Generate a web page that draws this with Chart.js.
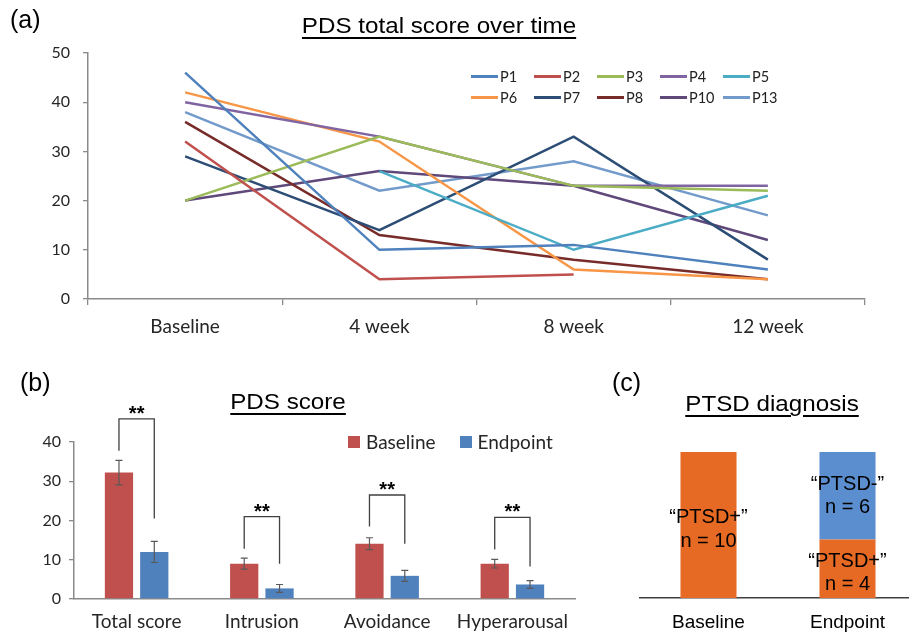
<!DOCTYPE html>
<html>
<head>
<meta charset="utf-8">
<script src="https://cdn.jsdelivr.net/npm/chart.js@4.4.1/dist/chart.umd.min.js"></script>
<style>
  body { margin: 0; background: #fff; }
  #fig { position: relative; width: 909px; height: 637px; overflow: hidden; font-family: "Liberation Sans", Arial, sans-serif; color: #000; }
  canvas { position: absolute; }
  .lbl { position: absolute; font-size: 25px; line-height: 25px; }
  .ttl { position: absolute; font-size: 22px; line-height: 22px; white-space: nowrap;
         text-decoration: underline; text-decoration-thickness: 1.5px; text-underline-offset: 4px;
         transform: translateX(-50%) scaleX(1.1); }
  #legA { position: absolute; left: 471px; top: 67px; display: grid; grid-template-columns: repeat(5, 63px); row-gap: 3px;
          font-family: Lato, sans-serif; font-size: 14.5px; color: #222; }
  #legA div { display: flex; align-items: center; height: 18px; }
  #legA span.ln { display: inline-block; width: 27px; height: 3px; margin-right: 2px; }
  #legB { position: absolute; top: 430px; left: 348px; font-family: Lato, sans-serif; font-size: 19px; color: #262626; display: flex; }
  #legB div { display: flex; align-items: center; margin-right: 24px; }
  #legB span.sq { display: inline-block; width: 12px; height: 12px; margin-right: 6px; }
  #boxC { position: absolute; left: 639px; top: 380px; width: 270px; height: 257px; overflow: hidden; }
</style>
</head>
<body>
<div id="fig">
  <canvas id="chartA" width="909" height="345" style="left:0;top:0"></canvas>
  <canvas id="chartB" width="600" height="257" style="left:0;top:380px"></canvas>
  <div id="boxC"><canvas id="chartC" width="279" height="257" style="left:0;top:0"></canvas></div>

  <div class="lbl" style="left:10px;top:7px">(a)</div>
  <div class="lbl" style="left:20px;top:370px">(b)</div>
  <div class="lbl" style="left:612px;top:370px">(c)</div>

  <div class="ttl" style="left:439px;top:15px">PDS total score over time</div>
  <div class="ttl" style="left:288px;top:391px">PDS score</div>
  <div class="ttl" style="left:772px;top:393px">PTSD diagnosis</div>

  <div id="legA"></div>
  <div id="legB"></div>
</div>

<script>
// (a) PDS total score over time
const timepoints = ["Baseline", "4 week", "8 week", "12 week"];
const participants = ["P1", "P2", "P3", "P4", "P5", "P6", "P7", "P8", "P10", "P13"];
const scoreP1 = [46, 10, 11, 6];
const scoreP2 = [32, 4, 5, null];
const scoreP3 = [20, 33, 23, 22];
const scoreP4 = [40, 33, 23, 23];
const scoreP5 = [null, 26, 10, 21];
const scoreP6 = [42, 32, 6, 4];
const scoreP7 = [29, 14, 33, 8];
const scoreP8 = [36, 13, 8, 4];
const scoreP10 = [20, 26, 23, 12];
const scoreP13 = [38, 22, 28, 17];
const lineColors = ["#4F81BD", "#C0504D", "#9BBB59", "#8064A2", "#4BACC6",
                    "#F79646", "#2C4D75", "#772C2A", "#5F497A", "#729ACA"];
const yTicksA = [0, 10, 20, 30, 40, 50];

// (b) PDS score, mean +- error
const subscales = ["Total score", "Intrusion", "Avoidance", "Hyperarousal"];
const baselineMean = [32.2, 9, 14.1, 9];
const endpointMean = [12, 2.7, 5.9, 3.7];
const baselineErr = [3.1, 1.4, 1.5, 1.1];
const endpointErr = [2.7, 1, 1.4, 1];
// significance brackets (score units)
const bracketTop = [45.9, 21, 26.5, 20.8];
const bracketLeft = [37.8, 12.8, 18.5, 12.6];
const bracketRight = [20.5, 9, 14.1, 8.3];
const signif = ["**", "**", "**", "**"];

// (c) PTSD diagnosis
const diagGroups = ["Baseline", "Endpoint"];
const ptsdPos = [10, 4];
const ptsdNeg = [0, 6];

const tickFont = { family: "Lato", size: 16 };
const axisGray = "#8a8a8a";

// legends
const legA = document.getElementById("legA");
participants.forEach((p, i) => {
  const d = document.createElement("div");
  d.innerHTML = `<span class="ln" style="background:${lineColors[i]}"></span>${p}`;
  legA.appendChild(d);
});
const legB = document.getElementById("legB");
[["Baseline", "#C0504D"], ["Endpoint", "#4F81BD"]].forEach(([t, c]) => {
  const d = document.createElement("div");
  d.innerHTML = `<span class="sq" style="background:${c}"></span>${t}`;
  legB.appendChild(d);
});

// chart (a)
const seriesA = [scoreP1, scoreP2, scoreP3, scoreP4, scoreP5, scoreP6, scoreP7, scoreP8, scoreP10, scoreP13];
new Chart(document.getElementById("chartA"), {
  type: "line",
  data: {
    labels: timepoints,
    datasets: seriesA.map((s, i) => ({
      label: participants[i],
      data: s,
      borderColor: lineColors[i],
      backgroundColor: lineColors[i],
      borderWidth: 2.5,
      pointRadius: 0,
      tension: 0,
    })),
  },
  options: {
    responsive: false,
    animation: false,
    layout: { padding: { top: 53, right: 44, left: 0, bottom: 0 } },
    plugins: { legend: { display: false }, tooltip: { enabled: false } },
    scales: {
      x: {
        offset: true,
        afterFit: (s) => { s.height = 46; },
        grid: { offset: true, drawOnChartArea: false, tickLength: 6, color: axisGray, lineWidth: 1.3 },
        border: { color: axisGray, width: 1.5 },
        ticks: { font: { family: "Lato", size: 19 }, color: "#262626", padding: 10 },
      },
      y: {
        min: 0,
        max: 50,
        afterFit: (s) => { s.width = 88; },
        afterBuildTicks: (s) => { s.ticks = yTicksA.map((v) => ({ value: v })); },
        grid: { drawOnChartArea: false, tickLength: 5, color: axisGray, lineWidth: 1.3 },
        border: { color: axisGray, width: 1.5 },
        ticks: { font: tickFont, color: "#262626", padding: 13 },
      },
    },
  },
});

// error bars and brackets for (b)
const annotB = {
  id: "annotB",
  afterDatasetsDraw(chart) {
    const ctx = chart.ctx;
    const y = chart.scales.y;
    const m0 = chart.getDatasetMeta(0).data;
    const m1 = chart.getDatasetMeta(1).data;
    ctx.save();
    ctx.strokeStyle = "#595959";
    ctx.lineWidth = 1.2;
    const errs = [[m0, baselineMean, baselineErr], [m1, endpointMean, endpointErr]];
    errs.forEach(([meta, mean, err]) => {
      meta.forEach((bar, i) => {
        const yt = y.getPixelForValue(mean[i] + err[i]);
        const yb = y.getPixelForValue(mean[i] - err[i]);
        ctx.beginPath();
        ctx.moveTo(bar.x, yt); ctx.lineTo(bar.x, yb);
        ctx.moveTo(bar.x - 3.5, yt); ctx.lineTo(bar.x + 3.5, yt);
        ctx.moveTo(bar.x - 3.5, yb); ctx.lineTo(bar.x + 3.5, yb);
        ctx.stroke();
      });
    });
    ctx.strokeStyle = "#404040";
    ctx.lineWidth = 1.3;
    ctx.fillStyle = "#000";
    ctx.font = "bold 20px 'Liberation Sans'";
    ctx.textAlign = "center";
    ctx.textBaseline = "alphabetic";
    subscales.forEach((_, i) => {
      const xl = m0[i].x, xr = m1[i].x;
      const yt = y.getPixelForValue(bracketTop[i]);
      ctx.beginPath();
      ctx.moveTo(xl, y.getPixelForValue(bracketLeft[i]));
      ctx.lineTo(xl, yt);
      ctx.lineTo(xr, yt);
      ctx.lineTo(xr, y.getPixelForValue(bracketRight[i]));
      ctx.stroke();
      ctx.fillText(signif[i], (xl + xr) / 2, yt + 1);
    });
    ctx.restore();
  },
};

new Chart(document.getElementById("chartB"), {
  type: "bar",
  data: {
    labels: subscales,
    datasets: [
      { label: "Baseline", data: baselineMean, backgroundColor: "#C0504D" },
      { label: "Endpoint", data: endpointMean, backgroundColor: "#4F81BD" },
    ],
  },
  options: {
    responsive: false,
    animation: false,
    categoryPercentage: 0.564,
    barPercentage: 0.8,
    layout: { padding: { top: 62, right: 25, left: 0, bottom: 0 } },
    plugins: { legend: { display: false }, tooltip: { enabled: false } },
    scales: {
      x: {
        afterFit: (s) => { s.height = 38; },
        grid: { display: false, drawTicks: false },
        border: { color: axisGray, width: 1.5 },
        ticks: { font: { family: "Lato", size: 19 }, color: "#262626", padding: 11 },
      },
      y: {
        min: 0,
        max: 40,
        afterFit: (s) => { s.width = 74; },
        ticks: { stepSize: 10, font: tickFont, color: "#262626", padding: 8 },
        grid: { drawOnChartArea: false, tickLength: 5, color: axisGray, lineWidth: 1.3 },
        border: { color: axisGray, width: 1.5 },
      },
    },
  },
  plugins: [annotB],
});

// labels inside stacked bars for (c)
const segLabels = {
  id: "segLabels",
  afterDatasetsDraw(chart) {
    const ctx = chart.ctx;
    ctx.save();
    ctx.fillStyle = "#000";
    ctx.font = "20px 'Liberation Sans'";
    ctx.textAlign = "center";
    ctx.textBaseline = "middle";
    const tags = ["\u201CPTSD+\u201D", "\u201CPTSD-\u201D"];
    const vals = [ptsdPos, ptsdNeg];
    [0, 1].forEach((d) => {
      chart.getDatasetMeta(d).data.forEach((bar, i) => {
        if (!vals[d][i]) return;
        const cy = (bar.y + bar.base) / 2 + (d === 0 ? 4 : 0);
        ctx.fillText(tags[d], bar.x, cy - 11.5);
        ctx.fillText("n = " + vals[d][i], bar.x, cy + 12);
      });
    });
    ctx.restore();
  },
};

new Chart(document.getElementById("chartC"), {
  type: "bar",
  data: {
    labels: diagGroups,
    datasets: [
      { label: "PTSD+", data: ptsdPos, backgroundColor: "#E76A24" },
      { label: "PTSD-", data: ptsdNeg, backgroundColor: "#5B8ECF" },
    ],
  },
  options: {
    responsive: false,
    animation: false,
    categoryPercentage: 0.8,
    barPercentage: 0.504,
    layout: { padding: { top: 72, right: 1, left: 0, bottom: 0 } },
    plugins: { legend: { display: false }, tooltip: { enabled: false } },
    scales: {
      x: {
        stacked: true,
        afterFit: (s) => { s.height = 39; },
        grid: { display: false, drawTicks: false },
        border: { color: "#404040", width: 1.5 },
        ticks: { font: { family: "Liberation Sans", size: 19 }, color: "#000", padding: 13 },
      },
      y: { stacked: true, display: false, min: 0, max: 10 },
    },
  },
  plugins: [segLabels],
});
</script>
</body>
</html>
